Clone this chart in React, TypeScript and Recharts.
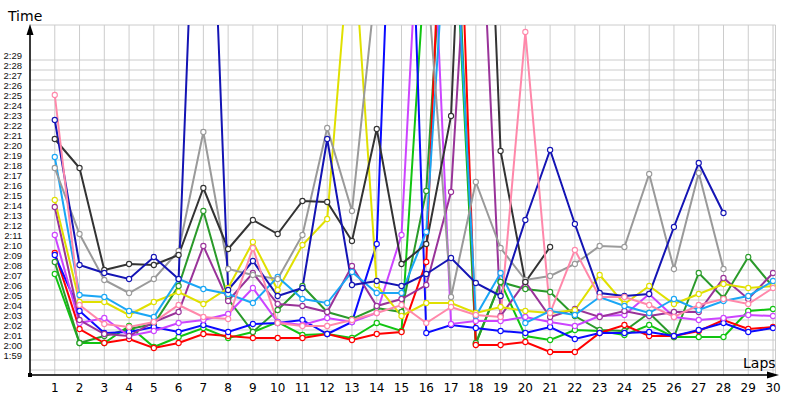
import React from "react";
import { LineChart, Line, XAxis, YAxis, CartesianGrid } from "recharts";

// Lap numbers
const laps = [1, 2, 3, 4, 5, 6, 7, 8, 9, 10, 11, 12, 13, 14, 15, 16, 17, 18, 19, 20, 21, 22, 23, 24, 25, 26, 27, 28, 29, 30];

// Lap times in seconds (values above the chart top are pit-stop laps that leave the plot)
const pink = [145.0, 124.0, 122.1, 121.8, 122.3, 124.0, 122.8, 122.6, 129.7, 122.2, 121.9, 121.9, 122.5, 123.2, 124.0, 122.2, 123.8, 123.0, 122.8, 151.3, 123.2, 129.5, 124.8, 124.8, 124.0, 122.8, 124.0, 124.6, 124.1, 125.7];
const navy = [142.5, 128.0, 127.2, 126.6, 128.8, 126.6, 190, 125.5, 128.4, 124.9, 125.7, 140.6, 126.0, 126.4, 125.9, 127.1, 128.7, 126.2, 124.9, 132.5, 139.5, 132.1, 125.2, 124.9, 125.1, 131.8, 138.2, 133.2, null, null];
const black = [140.6, 137.7, 127.5, 128.1, 128.0, 129.0, 135.7, 129.6, 132.5, 131.1, 134.4, 134.3, 130.4, 141.6, 128.1, 130.1, 142.9, 200, 139.4, 126.3, 129.8, null, null, null, null, null, null, null, null, null];
const gray = [137.7, 131.1, 126.5, 125.2, 126.6, 129.4, 141.3, 127.6, 127.0, 126.6, 131.0, 141.7, 133.4, 157, 160, 158, 124.8, 136.3, 129.7, 126.5, 126.9, 128.1, 129.9, 129.8, 137.1, 127.6, 137.2, 127.6, null, null];
const lightBlue = [138.8, 125.0, 124.8, 123.4, 122.8, 126.6, 125.6, 125.1, 124.2, 126.8, 124.6, 124.2, 127.3, 125.2, 125.2, 131.3, 170, 122.9, 127.2, 122.2, 123.4, 123.0, 124.8, 123.9, 123.2, 124.6, 123.5, 124.4, 124.9, 126.4];
const yellow = [134.5, 124.3, 124.3, 123.0, 124.3, 125.3, 124.1, 125.7, 130.3, 125.5, 130.0, 132.6, 163, 126.0, 122.9, 124.2, 124.2, 123.2, 123.8, 123.4, 123.2, 123.5, 127.0, 124.1, 125.9, 124.1, 125.1, 126.1, 125.7, 125.9];
const purple = [133.8, 122.5, 121.1, 120.9, 122.3, 123.3, 129.9, 124.4, 127.2, 124.1, 123.9, 123.3, 127.9, 123.9, 124.6, 126.0, 135.3, 176, 122.9, 126.3, 122.8, 123.6, 122.8, 123.4, 122.9, 123.3, 123.3, 126.7, 124.6, 127.2];
const violet = [131.0, 122.2, 122.7, 120.9, 121.4, 122.2, 122.5, 123.1, 125.7, 122.3, 122.0, 122.7, 122.3, 123.2, 131.0, 178, 122.1, 122.4, 122.4, 122.8, 122.3, 121.9, 122.9, 123.0, 125.1, 122.8, 122.5, 122.7, 123.0, 122.9];
const red = [129.2, 121.6, 120.2, 120.6, 119.7, 120.2, 121.1, 120.9, 120.7, 120.7, 120.7, 121.1, 120.5, 121.1, 121.3, 128.3, 190, 120.0, 120.0, 120.3, 119.3, 119.3, 121.2, 122.0, 120.9, 120.9, 121.4, 122.5, 121.6, 121.8];
const blue = [129.0, 123.4, 121.2, 121.3, 121.8, 121.3, 122.0, 121.3, 122.1, 122.2, 122.5, 121.1, 122.3, 130.1, 195, 121.2, 122.0, 121.7, 121.4, 121.2, 121.8, 120.6, 121.2, 121.2, 121.3, 120.9, 121.5, 122.2, 121.3, 121.7];
const darkGreen = [128.3, 120.2, 120.9, 121.6, 122.1, 125.9, 133.4, 124.6, 121.3, 123.5, 125.9, 123.3, 122.6, 123.7, 123.3, 135.4, 175, 120.2, 126.3, 125.6, 125.3, 122.9, 121.5, 121.4, 123.2, 120.8, 127.2, 124.7, 128.8, 125.8];
const brightGreen = [127.1, 120.2, 120.2, 121.9, 119.8, 120.8, 121.7, 120.7, 121.3, 122.3, 121.0, 121.1, 120.7, 122.2, 121.4, 160, 170, 120.1, 126.3, 120.9, 120.5, 121.5, 121.4, 121.0, 122.0, 120.8, 120.8, 120.8, 123.4, 123.6];

// Y labels shown: 1:59 .. 2:29 (seconds)
const timeLabels = [119, 120, 121, 122, 123, 124, 125, 126, 127, 128, 129, 130, 131, 132, 133, 134, 135, 136, 137, 138, 139, 140, 141, 142, 143, 144, 145, 146, 147, 148, 149];

const series = [
  { key: "brightGreen", color: "#11c411", values: brightGreen },
  { key: "darkGreen", color: "#2a9a2a", values: darkGreen },
  { key: "red", color: "#ff0000", values: red },
  { key: "blue", color: "#0a0aff", values: blue },
  { key: "violet", color: "#cc44ff", values: violet },
  { key: "purple", color: "#993399", values: purple },
  { key: "yellow", color: "#e0e000", values: yellow },
  { key: "lightBlue", color: "#1aa6f5", values: lightBlue },
  { key: "gray", color: "#9a9a9a", values: gray },
  { key: "black", color: "#333333", values: black },
  { key: "navy", color: "#1414b4", values: navy },
  { key: "pink", color: "#ff88aa", values: pink },
];

const data = laps.map((lap, i) => {
  const row: Record<string, number | null> = { lap };
  series.forEach((s) => {
    row[s.key] = s.values[i];
  });
  return row;
});

// grid lines sit half a second below each label
const gridTicks = [timeLabels[0] - 1.5, ...timeLabels.map((t) => t - 0.5)];

const fmt = (v: number) => {
  const m = Math.floor(v / 60);
  const s = Math.round(v - m * 60);
  return `${m}:${s < 10 ? "0" + s : s}`;
};

const YTick = (props: any) => {
  const { x, y, payload } = props;
  const v = payload.value + 0.5;
  if (!timeLabels.includes(Math.round(v))) return <g />;
  return (
    <text
      x={x}
      y={y - 5}
      textAnchor="end"
      dominantBaseline="central"
      fontSize={9.5}
      fontFamily="Liberation Sans, Arial, sans-serif"
      fill="#111"
    >
      {fmt(v)}
    </text>
  );
};

export default function App() {
  return (
    <div style={{ position: "absolute", left: 0, top: 0, width: 800, height: 400, background: "#fff" }}>
      <LineChart
        width={800}
        height={400}
        data={data}
        margin={{ top: 25, right: 24.5, bottom: 0, left: 0 }}
      >
        <CartesianGrid stroke="#cccccc" strokeWidth={1} />
        <XAxis
          dataKey="lap"
          type="number"
          domain={[0, 30.1]}
          ticks={laps}
          interval={0}
          allowDataOverflow
          tickLine={false}
          axisLine={false}
          height={25}
          tick={{ fontSize: 12, fill: "#000", fontFamily: "DejaVu Sans, sans-serif" }}
        />
        <YAxis
          type="number"
          domain={[117, 152]}
          ticks={gridTicks}
          interval={0}
          allowDataOverflow
          tickLine={false}
          axisLine={false}
          width={30}
          tick={<YTick />}
        />
        {series.map((s) => (
          <Line
            key={s.key}
            dataKey={s.key}
            stroke={s.color}
            strokeWidth={2}
            dot={{ r: 2.6, fill: "#fff", stroke: s.color, strokeWidth: 1.1 }}
            isAnimationActive={false}
            connectNulls={false}
            type="linear"
          />
        ))}
      </LineChart>
      <svg
        width={800}
        height={400}
        style={{ position: "absolute", left: 0, top: 0, pointerEvents: "none" }}
      >
        <line x1={30} y1={375} x2={30} y2={34} stroke="#000" strokeWidth={1.5} />
        <polygon points="30,24 26.5,35 33.5,35" fill="#000" />
        <line x1={30} y1={375} x2={768} y2={375} stroke="#000" strokeWidth={1.5} />
        <polygon points="779,375 767,371.5 767,378.5" fill="#000" />
        <rect x={28} y={373} width={4} height={4} fill="#000" />
        <text x={8} y={21} fontSize={14} fontFamily="DejaVu Sans, sans-serif" fill="#000">
          Time
        </text>
        <text x={743} y={368} fontSize={14} fontFamily="DejaVu Sans, sans-serif" fill="#000">
          Laps
        </text>
      </svg>
    </div>
  );
}
